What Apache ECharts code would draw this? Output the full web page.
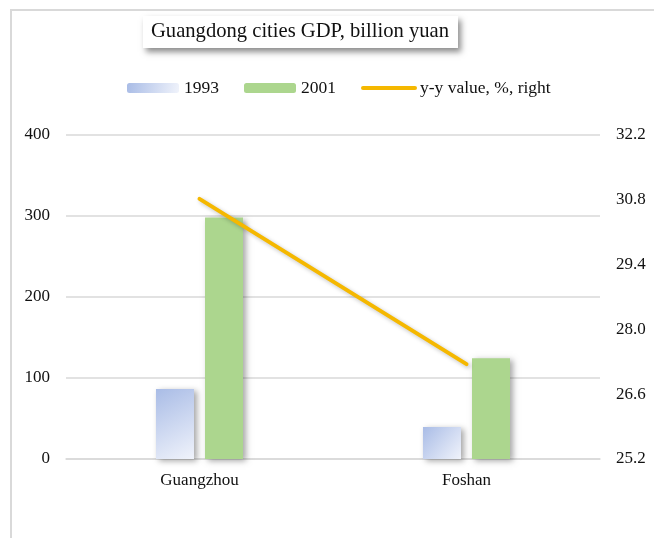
<!DOCTYPE html>
<html>
<head>
<meta charset="utf-8">
<script src="https://cdn.jsdelivr.net/npm/echarts@6/dist/echarts.min.js"></script>
<style>
  html, body { margin: 0; padding: 0; background: #fff; }
  #chart { width: 654px; height: 538px; }
</style>
</head>
<body>
<div id="chart"></div>
<script>
// data
var cities = ['Guangzhou', 'Foshan'];
var gdp1993 = [86.5, 39.5];
var gdp2001 = [298, 124.5];
var yoyRight = [30.82, 27.25];
var seriesNames = ['1993', '2001', 'y-y value, %, right'];

var serif = '"Liberation Serif", "Times New Roman", serif';
var gridColor = '#d9d9d9';
var textColor = '#111';

var chart = echarts.init(document.getElementById('chart'));
chart.setOption({
  animation: false,
  textStyle: { fontFamily: serif, color: textColor },
  // outer frame of the chart area
  graphic: [{
    type: 'rect',
    shape: { x: 11, y: 10, width: 700, height: 600 },
    style: { fill: 'none', stroke: gridColor, lineWidth: 2 },
    z: 0
  }],
  title: {
    text: 'Guangdong cities GDP, billion yuan',
    left: 143,
    top: 16,
    padding: [5, 9, 6, 8],
    backgroundColor: '#fff',
    shadowBlur: 6,
    shadowColor: 'rgba(0,0,0,0.45)',
    shadowOffsetX: 3,
    shadowOffsetY: 4,
    textStyle: { fontFamily: serif, fontSize: 20.6, fontWeight: 'normal', color: textColor }
  },
  legend: {
    data: [
      seriesNames[0],
      seriesNames[1],
      { name: seriesNames[2], itemStyle: { opacity: 0 }, lineStyle: { width: 4, cap: 'round' } }
    ],
    left: 127,
    top: 79,
    padding: 0,
    itemWidth: 52,
    itemHeight: 10,
    itemGap: 25,
    textStyle: { fontFamily: serif, fontSize: 17.5, color: textColor }
  },
  grid: { left: 66, right: 54, top: 135, bottom: 79 },
  xAxis: {
    type: 'category',
    data: cities,
    axisLine: { lineStyle: { color: gridColor, width: 1.5 } },
    axisTick: { show: false },
    axisLabel: { fontSize: 17, margin: 13, color: textColor }
  },
  yAxis: [{
    type: 'value',
    min: 0,
    max: 400,
    interval: 100,
    axisLine: { show: false },
    axisTick: { show: false },
    axisLabel: { fontSize: 17, margin: 16, color: textColor },
    splitLine: { lineStyle: { color: gridColor, width: 1.5 } }
  }, {
    type: 'value',
    min: 25.2,
    max: 32.2,
    interval: 1.4,
    position: 'right',
    axisLine: { show: false },
    axisTick: { show: false },
    splitLine: { show: false },
    axisLabel: {
      fontSize: 17, margin: 16, color: textColor,
      formatter: function (v) { return v.toFixed(1); }
    }
  }],
  series: [{
    name: seriesNames[0],
    type: 'bar',
    data: gdp1993,
    barWidth: 38,
    barGap: '29%',
    itemStyle: {
      color: new echarts.graphic.LinearGradient(0, 0, 1, 1, [
        { offset: 0, color: '#a9bce6' },
        { offset: 1, color: '#f0f3fb' }
      ]),
      shadowBlur: 6,
      shadowColor: 'rgba(0,0,0,0.35)',
      shadowOffsetX: 3,
      shadowOffsetY: 2
    }
  }, {
    name: seriesNames[1],
    type: 'bar',
    data: gdp2001,
    barWidth: 38,
    itemStyle: {
      color: '#acd68e',
      shadowBlur: 6,
      shadowColor: 'rgba(0,0,0,0.35)',
      shadowOffsetX: 3,
      shadowOffsetY: 2
    }
  }, {
    name: seriesNames[2],
    type: 'line',
    yAxisIndex: 1,
    data: yoyRight,
    symbol: 'none',
    z: 5,
    lineStyle: {
      color: '#f5b800',
      width: 4,
      cap: 'round',
      shadowBlur: 4,
      shadowColor: 'rgba(0,0,0,0.25)',
      shadowOffsetX: 2,
      shadowOffsetY: 2
    },
    itemStyle: { color: '#f5b800' }
  }]
});
</script>
</body>
</html>
